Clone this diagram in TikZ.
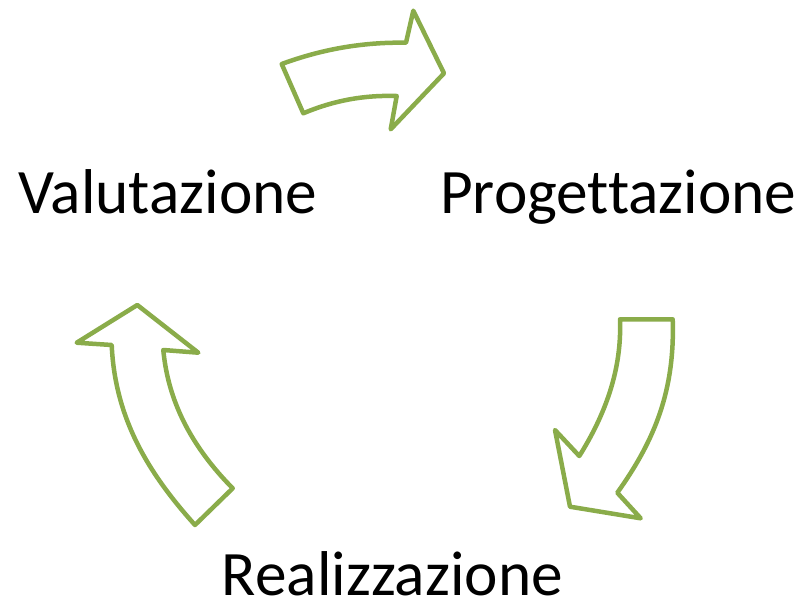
\documentclass[tikz,border=0pt]{standalone}
\usepackage{fontspec}
\setmainfont[Ligatures=NoCommon]{Carlito}
\definecolor{arrowgreen}{HTML}{8AAC4A}
\tikzset{
  cyclearrow/.style={draw=arrowgreen, line width=4.5pt, line join=round, fill=white},
  phase/.style={anchor=base west, inner sep=0pt, text depth=0pt, font=\fontsize{63.3}{63.3}\selectfont, text=black}
}
\begin{document}
\begin{tikzpicture}[x=1pt,y=-1pt]
\useasboundingbox (0,0) rectangle (798,606);
% top arrow
\draw[cyclearrow] (281.7,64) .. controls (320,50) and (360,42) .. (406,42.7)
  -- (413.3,10.7) -- (444,73.3) -- (390.7,129.3) -- (396.7,96)
  .. controls (365,95) and (335,100) .. (303.3,113.3) -- cycle;
% right arrow
\draw[cyclearrow] (620,319.3) -- (672.7,319.3)
  .. controls (675,390) and (655,440) .. (617.3,492.7)
  -- (640.7,518.3) -- (570,506.7) -- (555,430) -- (579.3,456)
  .. controls (605,415) and (622,370) .. (620,319.3) -- cycle;
% left arrow
\draw[cyclearrow] (137.3,305) -- (198.3,352.7) -- (163.3,350)
  .. controls (168,400) and (190,445) .. (232.7,488.3)
  -- (195,525) .. controls (150,475) and (115,420) .. (111.7,345)
  -- (76.7,342.7) -- cycle;
\node[phase] (val) at (18.3,213.3) {Valutazione};
\node[phase] (prog) at (440,213.3) {Progettazione};
\node[phase] (real) at (221.7,595.7) {Realizzazione};
\end{tikzpicture}
\end{document}
